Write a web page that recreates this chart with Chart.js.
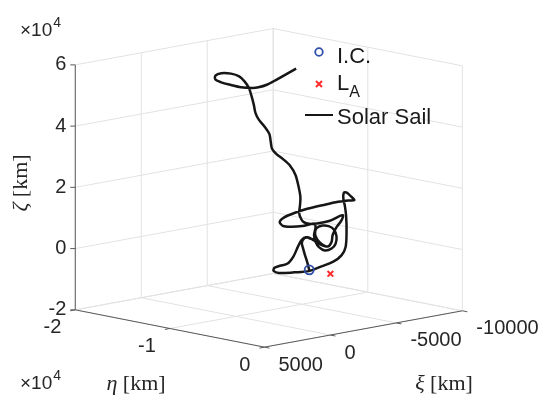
<!DOCTYPE html>
<html>
<head>
<meta charset="utf-8">
<title>Solar sail trajectory</title>
<style>
  html, body { margin: 0; padding: 0; background: #fff; }
</style>
</head>
<body>
<canvas id="myChart" width="548" height="406"></canvas>
<script src="https://cdn.jsdelivr.net/npm/chart.js"></script>
<script>
// trajectory of the solar sail, km (xi, eta, zeta), starting at the I.C.
var xi = [
  -2500, -2500, -2500, -2500, -2500, -2500, -2500, -2500, -2500, -2500,
  -2500, -2500, -2500, -2500, -2500, -2500, -2500, -2500, -2500, -2500,
  -2500, -2500, -2500, -2500, -2500, -2500, -2500, -2500, -2500, -2500,
  -2500, -2500, -2500, -2500, -2500, -2500, -2500, -2500, -2500, -2500,
  -2500, -2500, -2500, -2500, -2500, -2500, -2500, -2500, -2500, -2500,
  -2500, -2500, -2500, -2500, -2500, -2500, -2500, -2500, -2500, -2500,
  -2500, -2500, -2500, -2500, -2500, -2500, -2500, -2500, -2500, -2500,
  -2500, -2500, -2500, -2500, -2500, -2500, -2500, -2600, -2700, -2800,
  -2900, -3000, -3100, -3200, -3300, -3400, -3500, -3600, -3700, -3800,
  -3900, -4000, -4100, -4200, -4300, -4400, -4500, -4600, -4700, -4800,
  -4900, -5000, -5000, -5000, -5000, -5000
];
var eta = [
  -5730, -5940, -6200, -6400, -6510, -6250, -5780, -5270, -4650, -3930,
  -4390, -4860, -5110, -4960, -4340, -3670, -3100, -2840, -2940, -3360,
  -4080, -4700, -5060, -5220, -5060, -5220, -6460, -7700, -8520, -8850,
  -8370, -7310, -5940, -4210, -2670, -1630, -950, -1340, -1760, -2070,
  -2120, -1960, -1830, -1780, -1880, -2320, -3180, -4570, -5760, -7310,
  -8940, -9500, -9400, -8830, -8010, -7390, -6920, -6560, -6090, -5530,
  -5010, -4290, -3720, -3360, -3250, -2840, -2320, -2170, -2630, -3530,
  -4700, -5730, -6350, -6630, -6790, -6710, -6660, -6980, -7460, -8170,
  -9080, -9890, -10500, -10770, -11060, -11640, -12470, -12950, -13260, -13670,
  -14060, -14640, -15370, -16370, -17540, -18300, -18440, -17960, -17070, -16170,
  -15070, -14590, -13700, -12660, -11630, -10600
];
var zeta = [
  -4190, -1780, 590, 2680, 4200, 5780, 6380, 5750, 4950, 4510,
  5020, 6160, 7900, 9890, 11120, 11370, 10550, 8490, 6050, 4220,
  3150, 3880, 5400, 7520, 10140, 11160, 9670, 8700, 8510, 9570,
  11360, 13420, 15620, 17940, 19900, 20970, 21510, 22540, 23460, 23200,
  21270, 18990, 15910, 10880, 5660, 2630, 50, -2530, -4620, -5970,
  -7180, -6800, -5730, -4750, -3520, -770, 2680, 4960, 6250, 6060,
  5740, 4760, 4700, 6440, 8710, 11500, 14030, 15860, 15100, 13200,
  11690, 10840, 11100, 12190, 13740, 16100, 18980, 21970, 25610, 28110,
  29690, 30700, 32000, 33960, 36340, 38020, 40060, 41810, 44160, 47010,
  49030, 50680, 51860, 52070, 51440, 50100, 48670, 47930, 47550, 47290,
  47650, 48060, 49430, 51740, 54170, 56600
];
var icPoint = [-2500, -5730, -4190];   // initial condition
var laPoint = [0, 0, 0];               // L_A

// axes ticks and labels
var xiTicks = [5000, 0, -5000, -10000];
var xiLabels = ['5000', '0', '-5000', '-10000'];
var etaTicks = [-20000, -10000, 0];
var etaLabels = ['-2', '-1', '0'];
var zetaTicks = [-20000, 0, 20000, 40000, 60000];
var zetaLabels = ['-2', '0', '2', '4', '6'];

var xiMin = -10000, xiMax = 5000;
var etaMin = -20000, etaMax = 0;
var zetaMin = -20000, zetaMax = 60000;

// orthographic view of the box (half-box vectors, canvas units)
var view = { cx: 268.7, cy: 187.35, e: [96.8, 19.25], x: [-101.3, 18.75], z: [0, -126.4] };

function proj(a, b, c) {
  var x = (a - (xiMax + xiMin) / 2) / ((xiMax - xiMin) / 2);
  var e = (b - (etaMax + etaMin) / 2) / ((etaMax - etaMin) / 2);
  var z = (c - (zetaMax + zetaMin) / 2) / ((zetaMax - zetaMin) / 2);
  return {
    x: view.cx + e * view.e[0] + x * view.x[0] + z * view.z[0],
    y: view.cy + e * view.e[1] + x * view.x[1] + z * view.z[1]
  };
}

var sailData = [];
for (var i = 0; i < xi.length; i++) {
  sailData.push(proj(xi[i], eta[i], zeta[i]));
}

var boxPlugin = {
  id: 'box3d',
  beforeDatasetsDraw: function (chart) {
    var ctx = chart.ctx;
    var sx = chart.scales.x, sy = chart.scales.y;
    function seg(p, q, color, w) {
      var a = proj(p[0], p[1], p[2]), b = proj(q[0], q[1], q[2]);
      ctx.beginPath();
      ctx.strokeStyle = color;
      ctx.lineWidth = w;
      ctx.moveTo(sx.getPixelForValue(a.x), sy.getPixelForValue(a.y));
      ctx.lineTo(sx.getPixelForValue(b.x), sy.getPixelForValue(b.y));
      ctx.stroke();
    }
    ctx.save();
    var g = '#e2e2e2';
    // back-left wall (eta = min)
    xiTicks.forEach(function (t) { seg([t, etaMin, zetaMin], [t, etaMin, zetaMax], g, 1); });
    zetaTicks.forEach(function (t) { seg([xiMax, etaMin, t], [xiMin, etaMin, t], g, 1); });
    // back-right wall (xi = min)
    etaTicks.forEach(function (t) { seg([xiMin, t, zetaMin], [xiMin, t, zetaMax], g, 1); });
    zetaTicks.forEach(function (t) { seg([xiMin, etaMin, t], [xiMin, etaMax, t], g, 1); });
    // floor
    xiTicks.forEach(function (t) { seg([t, etaMin, zetaMin], [t, etaMax, zetaMin], g, 1); });
    etaTicks.forEach(function (t) { seg([xiMax, t, zetaMin], [xiMin, t, zetaMin], g, 1); });

    // axis lines
    var ac = '#5a5a5a';
    seg([xiMax, etaMin, zetaMin], [xiMax, etaMin, zetaMax], ac, 1);
    seg([xiMax, etaMin, zetaMin], [xiMax, etaMax, zetaMin], ac, 1);
    seg([xiMax, etaMax, zetaMin], [xiMin, etaMax, zetaMin], ac, 1);

    // ticks and labels
    ctx.strokeStyle = ac;
    ctx.fillStyle = '#262626';
    ctx.font = '20px "Liberation Sans", Arial, sans-serif';
    ctx.textBaseline = 'middle';
    zetaTicks.forEach(function (t, k) {
      var p = proj(xiMax, etaMin, t);
      var px = sx.getPixelForValue(p.x), py = sy.getPixelForValue(p.y);
      ctx.beginPath(); ctx.moveTo(px, py); ctx.lineTo(px - 5, py); ctx.stroke();
      ctx.textAlign = 'right';
      ctx.fillText(zetaLabels[k], px - 9, py);
    });
    etaTicks.forEach(function (t, k) {
      var p = proj(xiMax, t, zetaMin);
      var px = sx.getPixelForValue(p.x), py = sy.getPixelForValue(p.y);
      ctx.beginPath(); ctx.moveTo(px, py); ctx.lineTo(px - 5, py + 1); ctx.stroke();
      ctx.textAlign = 'right';
      ctx.fillText(etaLabels[k], px - 14, py + 18);
    });
    xiTicks.forEach(function (t, k) {
      var p = proj(t, etaMax, zetaMin);
      var px = sx.getPixelForValue(p.x), py = sy.getPixelForValue(p.y);
      ctx.beginPath(); ctx.moveTo(px, py); ctx.lineTo(px + 5, py + 1); ctx.stroke();
      ctx.textAlign = 'left';
      ctx.fillText(xiLabels[k], px + 14, py + 18);
    });

    // exponent markers
    ctx.textBaseline = 'alphabetic';
    ctx.textAlign = 'left';
    function expo(x, y) {
      ctx.font = '19px "Liberation Sans", Arial, sans-serif';
      ctx.fillText('\u00d710', x, y);
      var w = ctx.measureText('\u00d710').width;
      ctx.font = '14px "Liberation Sans", Arial, sans-serif';
      ctx.fillText('4', x + w + 1, y - 9);
    }
    expo(20, 36);
    expo(20, 389);

    // axis labels
    ctx.textBaseline = 'middle';
    function label(sym, x, y, rot) {
      ctx.save();
      ctx.translate(x, y);
      if (rot) ctx.rotate(-Math.PI / 2);
      ctx.font = 'italic 22px "Liberation Serif", serif';
      var w1 = ctx.measureText(sym + ' ').width;
      ctx.font = '22px "Liberation Serif", serif';
      var w2 = ctx.measureText('[km]').width;
      var x0 = -(w1 + w2) / 2;
      ctx.textAlign = 'left';
      ctx.font = 'italic 22px "Liberation Serif", serif';
      ctx.fillText(sym, x0, 0);
      ctx.font = '22px "Liberation Serif", serif';
      ctx.fillText('[km]', x0 + w1, 0);
      ctx.restore();
    }
    label('\u03b7', 136, 384, false);
    label('\u03be', 444, 384, false);
    label('\u03b6', 21, 183, true);
    ctx.restore();
  },
  afterDraw: function (chart) {
    // legend
    var ctx = chart.ctx;
    var ds = chart.data.datasets;
    ctx.save();
    ctx.fillStyle = '#1a1a1a';
    ctx.textAlign = 'left';
    ctx.textBaseline = 'alphabetic';
    ctx.font = '22px "Liberation Sans", Arial, sans-serif';

    ctx.beginPath();
    ctx.strokeStyle = ds[1].borderColor;
    ctx.lineWidth = ds[1].borderWidth;
    ctx.arc(319, 52, 3.8, 0, Math.PI * 2);
    ctx.stroke();
    ctx.fillText('I.C.', 337, 62.5);

    ctx.beginPath();
    ctx.strokeStyle = ds[2].borderColor;
    ctx.lineWidth = ds[2].borderWidth;
    ctx.moveTo(316, 81); ctx.lineTo(322, 87);
    ctx.moveTo(322, 81); ctx.lineTo(316, 87);
    ctx.stroke();
    ctx.fillText('L', 337, 90);
    var wl = ctx.measureText('L').width;
    ctx.font = '16px "Liberation Sans", Arial, sans-serif';
    ctx.fillText('A', 337 + wl, 97);

    ctx.beginPath();
    ctx.strokeStyle = ds[0].borderColor;
    ctx.lineWidth = 2;
    ctx.moveTo(305, 115); ctx.lineTo(333, 115);
    ctx.stroke();
    ctx.font = '22px "Liberation Sans", Arial, sans-serif';
    ctx.fillText('Solar Sail', 337, 124);
    ctx.restore();
  }
};

var ctx = document.getElementById('myChart').getContext('2d');
var chart = new Chart(ctx, {
  type: 'scatter',
  data: {
    datasets: [{
      label: 'Solar Sail',
      data: sailData,
      showLine: true,
      borderColor: '#161616',
      borderWidth: 2.5,
      pointRadius: 0,
      tension: 0.3,
      order: 3
    }, {
      label: 'I.C.',
      data: [proj(icPoint[0], icPoint[1], icPoint[2])],
      pointStyle: 'circle',
      pointRadius: 4.5,
      borderColor: '#2f4fa8',
      backgroundColor: 'rgba(0,0,0,0)',
      borderWidth: 1.8,
      order: 1
    }, {
      label: 'L_A',
      data: [proj(laPoint[0], laPoint[1], laPoint[2])],
      pointStyle: 'crossRot',
      pointRadius: 4,
      borderColor: '#ff2a2a',
      borderWidth: 2,
      order: 2
    }]
  },
  options: {
    responsive: false,
    animation: false,
    devicePixelRatio: 1,
    layout: { padding: 0 },
    plugins: { legend: { display: false }, tooltip: { enabled: false } },
    scales: {
      x: { type: 'linear', min: 0, max: 548, display: false },
      y: { type: 'linear', min: 0, max: 406, reverse: true, display: false }
    }
  },
  plugins: [boxPlugin]
});
</script>
</body>
</html>
